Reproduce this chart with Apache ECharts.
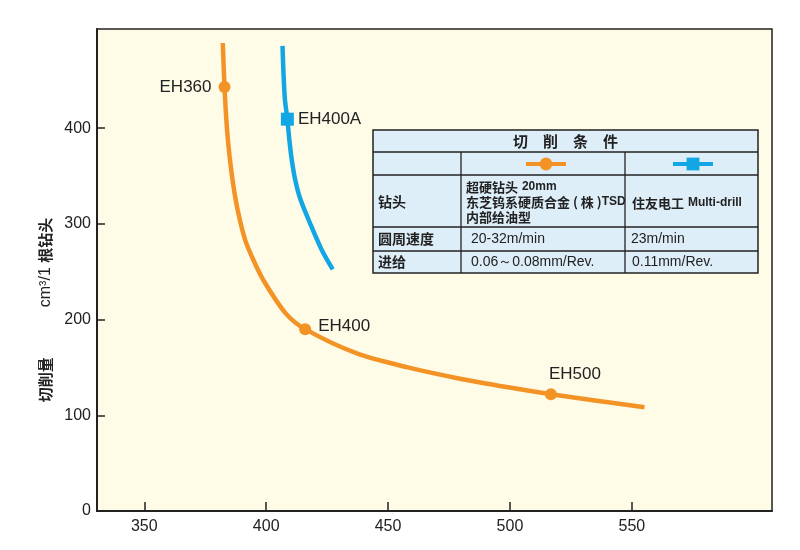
<!DOCTYPE html>
<html lang="zh">
<head>
    <meta charset="UTF-8">
    <title>切削量曲线</title>
    <script src="https://cdn.jsdelivr.net/npm/echarts@6.0.0/dist/echarts.min.js"></script>
    <style>
        body { margin: 0; background: #fff; }
        #chart { width: 800px; height: 550px; }
    </style>
</head>
<body>
    <div id="chart"></div>
    <script>
        // Datos
        const xTicks = [350, 400, 450, 500, 550];
        const yTicks = [0, 100, 200, 300, 400];

        const orangeName = '超硬钻头 20mm';
        const orangeX = [382.2, 382.9, 383.9, 385.0, 386.6, 388.6, 391.4, 394.8, 398.9, 408.0, 416.0, 437.2, 458.1, 479.0, 499.9, 516.8, 555.2];
        const orangeY = [489, 443, 400, 370, 339, 311, 283, 262, 241, 206.5, 190, 164.6, 150, 138.5, 129, 122, 108.5];
        const orangeLabels = ['', 'EH360', '', '', '', '', '', '', '', '', 'EH400', '', '', '', '', 'EH500', ''];

        const blueName = '住友电工 Multi-drill';
        const blueX = [406.7, 407.1, 407.7, 408.7, 409.5, 410.5, 411.9, 413.9, 418.0, 422.8, 427.3];
        const blueY = [486, 457.5, 429.6, 409.4, 387.8, 366.9, 346, 326.8, 300.6, 272.7, 252.5];
        const blueLabels = ['', '', '', 'EH400A', '', '', '', '', '', '', ''];

        // Tabla de condiciones
        const tableTitle = '切　削　条　件';
        const rowHeads = ['钻头', '圆周速度', '进给'];
        const orangeDrill = ['{c|超硬钻头} {l|20mm}', '{c|东芝钨系硬质合金 ( 株 )}{l|TSD}', '{c|内部给油型}'];
        const blueDrill = '{c|住友电工} {l|Multi-drill}';
        const speeds = ['20-32m/min', '23m/min'];
        const feeds = ['0.06～0.08mm/Rev.', '0.11mm/Rev.'];

        const ORANGE = '#F39325';
        const BLUE = '#13A6E4';
        const INK = '#222';
        const LATIN = 'Liberation Sans, Arial, sans-serif';
        const CJK = 'Noto Sans CJK SC, sans-serif';

        const labelPos = {
            EH360: { position: 'left', distance: 7 },
            EH400: { position: 'right', distance: 7, offset: [0, -3] },
            EH500: { position: 'top', distance: 5, offset: [24, 0] },
            EH400A: { position: 'right', distance: 4 }
        };

        function buildData(xs, ys, labels) {
            return xs.map((x, i) => {
                const name = labels[i];
                if (!name) return { value: [x, ys[i]], symbol: 'none' };
                return {
                    name: name,
                    value: [x, ys[i]],
                    label: Object.assign({ show: true, formatter: '{b}' }, labelPos[name])
                };
            });
        }

        // Tabla dibujada con graphic
        const colX = [373, 461, 625, 758];
        const rowY = [130, 152, 175, 227, 251, 273];

        function line(x1, y1, x2, y2) {
            return { type: 'line', shape: { x1, y1, x2, y2 }, style: { stroke: INK, lineWidth: 1.3 }, silent: true };
        }
        function text(x, y, str, extra) {
            return {
                type: 'text', x: x, y: y, silent: true,
                style: Object.assign({
                    text: str, fill: INK, font: '14px ' + LATIN,
                    verticalAlign: 'middle', align: 'left'
                }, extra || {})
            };
        }
        const richDrill = {
            c: { fontFamily: CJK, fontSize: 13, fontWeight: 'bold', fill: INK, lineHeight: 15, verticalAlign: 'middle' },
            l: { fontFamily: LATIN, fontSize: 12, fontWeight: 'bold', fill: INK, lineHeight: 15, verticalAlign: 'middle' }
        };
        const headStyle = { font: 'bold 14px ' + CJK };

        const tableGraphics = [
            {
                type: 'rect', silent: true,
                shape: { x: colX[0], y: rowY[0], width: colX[3] - colX[0], height: rowY[5] - rowY[0] },
                style: { fill: '#DDEEF8', stroke: INK, lineWidth: 1.5 }
            },
            line(colX[0], rowY[1], colX[3], rowY[1]),
            line(colX[0], rowY[2], colX[3], rowY[2]),
            line(colX[0], rowY[3], colX[3], rowY[3]),
            line(colX[0], rowY[4], colX[3], rowY[4]),
            line(colX[1], rowY[1], colX[1], rowY[5]),
            line(colX[2], rowY[1], colX[2], rowY[5]),
            text((colX[0] + colX[3]) / 2, (rowY[0] + rowY[1]) / 2, tableTitle, { align: 'center', font: 'bold 15px ' + CJK }),
            text(378, 202, rowHeads[0], headStyle),
            text(378, 239, rowHeads[1], headStyle),
            text(378, 262, rowHeads[2], headStyle),
            text(466, 202, orangeDrill.join('\n'), { rich: richDrill, lineHeight: 15 }),
            text(632, 203, blueDrill, { rich: richDrill }),
            text(471, 239, speeds[0]),
            text(631, 239, speeds[1]),
            text(471, 262, feeds[0]),
            text(632, 262, feeds[1])
        ];

        const chart = echarts.init(document.getElementById('chart'));
        chart.setOption({
            backgroundColor: '#fff',
            animation: false,
            grid: {
                left: 97, right: 28, top: 29, bottom: 39,
                show: true, backgroundColor: '#FEFBE7',
                borderColor: INK, borderWidth: 1.5
            },
            legend: [
                {
                    data: [orangeName], left: 524, top: 156, padding: 0,
                    itemWidth: 40, itemHeight: 16, formatter: () => '',
                    lineStyle: { width: 4 }, selectedMode: false
                },
                {
                    data: [blueName], left: 671, top: 156, padding: 0,
                    itemWidth: 40, itemHeight: 16, formatter: () => '',
                    lineStyle: { width: 4 }, selectedMode: false
                }
            ],
            xAxis: {
                type: 'value', min: 330.6, max: 607.5,
                axisLine: { show: true, lineStyle: { color: INK, width: 2 } },
                axisTick: { show: true, inside: true, length: 9, customValues: xTicks, lineStyle: { color: INK, width: 1.5 } },
                axisLabel: { customValues: xTicks, margin: 8, color: INK, fontSize: 16, fontFamily: LATIN },
                splitLine: { show: false }
            },
            yAxis: {
                type: 'value', min: 0, max: 503.6,
                name: '{b|切削量}{g|}{n|cm³/1 }{b|根钻头}',
                nameLocation: 'middle', nameRotate: 90, nameGap: 37,
                nameTextStyle: {
                    padding: [0, 80, 0, 0],
                    rich: {
                        b: { fontFamily: CJK, fontSize: 15, fontWeight: 'bold', color: INK },
                        g: { width: 50 },
                        n: { fontFamily: LATIN, fontSize: 16, color: INK }
                    }
                },
                axisLine: { show: true, lineStyle: { color: INK, width: 2 } },
                axisTick: { show: true, inside: true, length: 8, customValues: yTicks, lineStyle: { color: INK, width: 1.5 } },
                axisLabel: { customValues: yTicks, margin: 6, color: INK, fontSize: 16, fontFamily: LATIN },
                splitLine: { show: false }
            },
            series: [
                {
                    name: orangeName, type: 'line', smooth: 0.3,
                    symbol: 'circle', symbolSize: 12, showAllSymbol: true,
                    itemStyle: { color: ORANGE },
                    lineStyle: { color: ORANGE, width: 4.5 },
                    label: { color: INK, fontSize: 17, fontFamily: LATIN },
                    data: buildData(orangeX, orangeY, orangeLabels)
                },
                {
                    name: blueName, type: 'line', smooth: 0.3,
                    symbol: 'rect', symbolSize: 13, showAllSymbol: true,
                    itemStyle: { color: BLUE },
                    lineStyle: { color: BLUE, width: 4.5 },
                    label: { color: INK, fontSize: 17, fontFamily: LATIN },
                    data: buildData(blueX, blueY, blueLabels)
                }
            ],
            graphic: tableGraphics
        });
    </script>
</body>
</html>
